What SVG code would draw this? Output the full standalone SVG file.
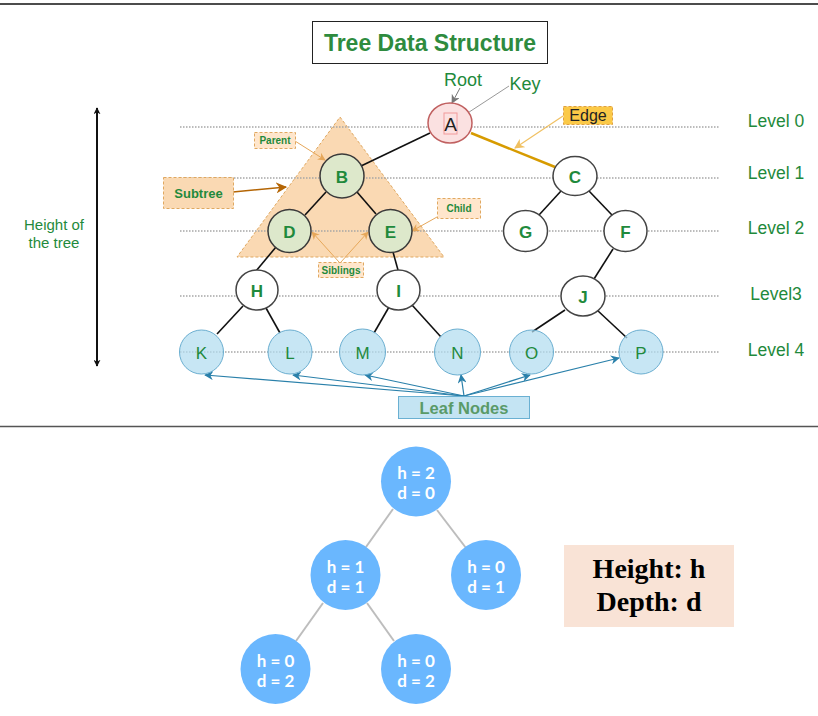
<svg xmlns="http://www.w3.org/2000/svg" width="818" height="716" viewBox="0 0 818 716">
<defs>
<style>
.sans{font-family:"Liberation Sans",Arial,sans-serif}
.grn{fill:#1f8a3c}
.lvl{stroke:#a6a6a6;stroke-width:1.5;stroke-dasharray:1.5 1.5;fill:none}
.edge{stroke:#111;stroke-width:1.6;fill:none}
.wnode{fill:#fff;stroke:#444;stroke-width:1.5}
.gnode{fill:#dde8cb;stroke:#3a3a3a;stroke-width:1.5}
.leaf{fill:#b1ddf0;fill-opacity:0.72;stroke:#6aaed0;stroke-width:1}
.bl{font-family:"Liberation Sans",Arial,sans-serif;font-weight:bold;font-size:17px;fill:#1f8a3c;text-anchor:middle}
.nl{font-family:"Liberation Sans",Arial,sans-serif;font-size:17px;fill:#1f8a3c;text-anchor:middle}
.lab{fill:#ffe6cc;stroke:#e0a860;stroke-width:1;stroke-dasharray:3 2}
.labt{font-family:"Liberation Sans",Arial,sans-serif;font-weight:bold;font-size:10px;fill:#1f8a3c;text-anchor:middle}
.oarr{stroke:#e6a75a;stroke-width:1;fill:none}
.barr{stroke:#2a80aa;stroke-width:1.2;fill:none}
.bnode{fill:#6ab7fe}
.bt{font-family:Lato,"Liberation Sans",sans-serif;font-weight:bold;font-size:17px;fill:#fff;text-anchor:middle}
.bedge{stroke:#bdbdbd;stroke-width:2;fill:none}
</style>
<marker id="mBlk" viewBox="0 0 10 10" refX="9" refY="5" markerWidth="7" markerHeight="7" orient="auto-start-reverse" markerUnits="userSpaceOnUse"><path d="M0,0 L10,5 L0,10 L3,5 z" fill="#111"/></marker>
<marker id="mGray" viewBox="0 0 10 10" refX="9" refY="5" markerWidth="9" markerHeight="9" orient="auto" markerUnits="userSpaceOnUse"><path d="M0,0 L10,5 L0,10 L3,5 z" fill="#777"/></marker>
<marker id="mYel" viewBox="0 0 10 10" refX="9" refY="5" markerWidth="10" markerHeight="10" orient="auto" markerUnits="userSpaceOnUse"><path d="M0,0 L10,5 L0,10 L3,5 z" fill="#f0c060"/></marker>
<marker id="mBrown" viewBox="0 0 10 10" refX="9" refY="5" markerWidth="11" markerHeight="11" orient="auto" markerUnits="userSpaceOnUse"><path d="M0,0 L10,5 L0,10 L3,5 z" fill="#b46504"/></marker>
<marker id="mOr" viewBox="0 0 10 10" refX="9" refY="5" markerWidth="8" markerHeight="8" orient="auto" markerUnits="userSpaceOnUse"><path d="M0,0 L10,5 L0,10 L3,5 z" fill="#e6a75a"/></marker>
<marker id="mBlue" viewBox="0 0 10 10" refX="9" refY="5" markerWidth="9" markerHeight="9" orient="auto" markerUnits="userSpaceOnUse"><path d="M0,0 L10,5 L0,10 L3,5 z" fill="#2a80aa"/></marker>
</defs>
<rect x="0" y="0" width="818" height="716" fill="#fff"/>
<line x1="0" y1="4" x2="818" y2="4" stroke="#111" stroke-width="1.5"/>
<line x1="0" y1="426.5" x2="818" y2="426.5" stroke="#555" stroke-width="1.5"/>

<g id="title">
<rect x="312.5" y="21.5" width="235" height="42" fill="#fff" stroke="#222" stroke-width="1"/>
<text x="430" y="51" class="sans" font-weight="bold" font-size="23" fill="#2e8b3e" text-anchor="middle">Tree Data Structure</text>
</g>

<g id="subtree-triangle">
<path d="M340,117 L444,257 L237,257 Z" fill="#fad9b3" stroke="#e0a860" stroke-width="1" stroke-dasharray="3 2"/>
</g>

<g id="levels">
<line class="lvl" x1="180" y1="127" x2="719" y2="127"/>
<line class="lvl" x1="180" y1="178" x2="719" y2="178"/>
<line class="lvl" x1="180" y1="231" x2="719" y2="231"/>
<line class="lvl" x1="180" y1="296" x2="719" y2="296"/>
<line class="lvl" x1="180" y1="352" x2="719" y2="352"/>
<text x="776" y="126.5" class="sans grn" font-size="17.5" text-anchor="middle">Level 0</text>
<text x="776" y="178.5" class="sans grn" font-size="17.5" text-anchor="middle">Level 1</text>
<text x="776" y="233.5" class="sans grn" font-size="17.5" text-anchor="middle">Level 2</text>
<text x="776" y="299.5" class="sans grn" font-size="17.5" text-anchor="middle">Level3</text>
<text x="776" y="355.5" class="sans grn" font-size="17.5" text-anchor="middle">Level 4</text>
</g>

<g id="connectors">
<line class="edge" x1="430" y1="133" x2="361" y2="166"/>
<line x1="471" y1="133" x2="555" y2="167" stroke="#d79b00" stroke-width="2.5"/>
<line class="edge" x1="326" y1="192" x2="305" y2="215"/>
<line class="edge" x1="357" y1="192" x2="376" y2="214"/>
<line class="edge" x1="276" y1="247" x2="256" y2="271"/>
<line class="edge" x1="393" y1="252" x2="398" y2="270"/>
<line class="edge" x1="243" y1="306" x2="217" y2="334"/>
<line class="edge" x1="266" y1="308" x2="280" y2="333"/>
<line class="edge" x1="389" y1="307" x2="374" y2="333"/>
<line class="edge" x1="412" y1="305" x2="441" y2="337"/>
<line class="edge" x1="561" y1="191" x2="539" y2="215"/>
<line class="edge" x1="589" y1="191" x2="612" y2="215"/>
<line class="edge" x1="613" y1="249" x2="594" y2="279"/>
<line class="edge" x1="565" y1="310" x2="532" y2="332"/>
<line class="edge" x1="597" y1="310" x2="627" y2="338"/>
<line x1="460" y1="88" x2="452" y2="103" stroke="#777" stroke-width="1" marker-end="url(#mGray)"/>
<line x1="509" y1="86" x2="460" y2="118" stroke="#999" stroke-width="1" marker-end="url(#mGray)"/>
<line x1="563" y1="116" x2="515" y2="148" stroke="#f0c060" stroke-width="1.2" marker-end="url(#mYel)"/>
<line x1="233" y1="192" x2="286" y2="187" stroke="#b46504" stroke-width="1.5" marker-end="url(#mBrown)"/>
<line class="oarr" x1="295" y1="141" x2="325" y2="160" marker-end="url(#mOr)"/>
<line class="oarr" x1="437" y1="217" x2="412" y2="231" marker-end="url(#mOr)"/>
<line class="oarr" x1="339" y1="262" x2="312" y2="232" marker-end="url(#mOr)"/>
<line class="oarr" x1="341" y1="262" x2="368" y2="232" marker-end="url(#mOr)"/>
<line class="barr" x1="464" y1="396" x2="205" y2="375" marker-end="url(#mBlue)"/>
<line class="barr" x1="464" y1="396" x2="293" y2="375" marker-end="url(#mBlue)"/>
<line class="barr" x1="464" y1="396" x2="365" y2="375" marker-end="url(#mBlue)"/>
<line class="barr" x1="464" y1="396" x2="461" y2="375" marker-end="url(#mBlue)"/>
<line class="barr" x1="464" y1="396" x2="530" y2="375" marker-end="url(#mBlue)"/>
<line class="barr" x1="464" y1="396" x2="619" y2="358" marker-end="url(#mBlue)"/>
<line x1="97" y1="108" x2="97" y2="366" stroke="#111" stroke-width="2" marker-start="url(#mBlk)" marker-end="url(#mBlk)"/>
<line class="bedge" x1="393" y1="509" x2="366" y2="547"/>
<line class="bedge" x1="437" y1="510" x2="466" y2="548"/>
<line class="bedge" x1="323" y1="603" x2="296" y2="641"/>
<line class="bedge" x1="367" y1="603" x2="394" y2="641"/>
</g>

<g id="labels">
<text x="463" y="86" class="sans grn" font-size="18" text-anchor="middle">Root</text>
<text x="525" y="90" class="sans grn" font-size="18" text-anchor="middle">Key</text>
<rect x="563.5" y="106.5" width="49" height="18" fill="#fbc947" stroke="#e0a040" stroke-width="1" stroke-dasharray="3 2"/>
<text x="588" y="121" class="sans" font-size="16" fill="#222" text-anchor="middle">Edge</text>
<text x="54" y="230" class="sans grn" font-size="15" text-anchor="middle">Height of</text>
<text x="54" y="248" class="sans grn" font-size="15" text-anchor="middle">the tree</text>
</g>

<g id="label-subtree">
<rect x="163.5" y="177.5" width="70" height="31" fill="#fad9b3" stroke="#e0a860" stroke-width="1" stroke-dasharray="3 2"/>
<text x="198.5" y="197.5" class="sans grn" font-weight="bold" font-size="13" text-anchor="middle">Subtree</text>
</g>
<g id="label-parent">
<rect x="254.5" y="132.5" width="41" height="16" class="lab"/>
<text x="275" y="144" class="labt">Parent</text>
</g>
<g id="label-child">
<rect x="437.5" y="198.5" width="43" height="20" class="lab"/>
<text x="459" y="212" class="labt">Child</text>
</g>
<g id="label-siblings">
<rect x="318.5" y="262.5" width="45" height="15" class="lab"/>
<text x="341" y="273.5" class="labt" font-size="9.5">Siblings</text>
</g>

<g id="node-A">
<ellipse cx="450" cy="123" rx="22" ry="20" fill="#fbe1e1" stroke="#c06060" stroke-width="1.5"/>
<rect x="444" y="113" width="13" height="21" fill="none" stroke="#f29a9a" stroke-width="1"/>
<text x="450.5" y="131" class="sans" font-size="19" fill="#222" text-anchor="middle">A</text>
</g>
<g id="node-B"><circle cx="342" cy="176" r="22" class="gnode"/><text x="342" y="182.5" class="bl">B</text></g>
<g id="node-D"><circle cx="289.5" cy="231" r="21.5" class="gnode"/><text x="289.5" y="237.5" class="bl">D</text></g>
<g id="node-E"><circle cx="390.5" cy="231" r="21.5" class="gnode"/><text x="390.5" y="237.5" class="bl">E</text></g>
<g id="node-C"><ellipse cx="575" cy="176" rx="22" ry="19.5" class="wnode"/><text x="575" y="182.5" class="bl">C</text></g>
<g id="node-G"><ellipse cx="525.5" cy="231" rx="22" ry="20.5" class="wnode"/><text x="525.5" y="237.5" class="bl">G</text></g>
<g id="node-F"><ellipse cx="625.5" cy="231" rx="21.5" ry="20.5" class="wnode"/><text x="625.5" y="237.5" class="bl">F</text></g>
<g id="node-H"><ellipse cx="257" cy="290" rx="21" ry="20" class="wnode"/><text x="257" y="296.5" class="bl">H</text></g>
<g id="node-I"><ellipse cx="398.5" cy="290" rx="21.5" ry="20" class="wnode"/><text x="398.5" y="296.5" class="bl">I</text></g>
<g id="node-J"><ellipse cx="583" cy="296" rx="22" ry="20" class="wnode"/><text x="583" y="302.5" class="bl">J</text></g>
<g id="node-K"><circle cx="201.5" cy="352" r="22" class="leaf"/><text x="201.5" y="358.5" class="nl">K</text></g>
<g id="node-L"><circle cx="290" cy="352" r="22" class="leaf"/><text x="290" y="358.5" class="nl">L</text></g>
<g id="node-M"><circle cx="362.5" cy="352" r="23" class="leaf"/><text x="362.5" y="358.5" class="nl">M</text></g>
<g id="node-N"><circle cx="457.5" cy="352" r="23" class="leaf"/><text x="457.5" y="358.5" class="nl">N</text></g>
<g id="node-O"><circle cx="531.5" cy="352" r="22" class="leaf"/><text x="531.5" y="358.5" class="nl">O</text></g>
<g id="node-P"><circle cx="641" cy="352" r="22" class="leaf"/><text x="641" y="358.5" class="nl">P</text></g>

<g id="leaf-nodes-label">
<rect x="398.5" y="396.5" width="131" height="22" fill="#c4e4f3" stroke="#6ab0d2" stroke-width="1"/>
<text x="464" y="413.5" class="sans" font-weight="bold" font-size="16.5" fill="#5a9a68" text-anchor="middle">Leaf Nodes</text>
</g>

<g id="bnode-root"><circle cx="416" cy="481.5" r="35" class="bnode"/><text x="416" y="479" class="bt">h = 2</text><text x="416" y="499" class="bt">d = 0</text></g>
<g id="bnode-left"><circle cx="345.5" cy="575" r="35" class="bnode"/><text x="345.5" y="572.5" class="bt">h = 1</text><text x="345.5" y="592.5" class="bt">d = 1</text></g>
<g id="bnode-right"><circle cx="486" cy="575" r="35" class="bnode"/><text x="486" y="572.5" class="bt">h = 0</text><text x="486" y="592.5" class="bt">d = 1</text></g>
<g id="bnode-ll"><circle cx="275.5" cy="669" r="35" class="bnode"/><text x="275.5" y="666.5" class="bt">h = 0</text><text x="275.5" y="686.5" class="bt">d = 2</text></g>
<g id="bnode-lr"><circle cx="416" cy="669" r="35" class="bnode"/><text x="416" y="666.5" class="bt">h = 0</text><text x="416" y="686.5" class="bt">d = 2</text></g>

<g id="legend">
<rect x="564" y="545" width="170" height="82" fill="#f9e3d6"/>
<text x="649" y="578" font-family="'Liberation Serif','Times New Roman',serif" font-weight="bold" font-size="28" fill="#000" text-anchor="middle">Height: h</text>
<text x="649" y="611" font-family="'Liberation Serif','Times New Roman',serif" font-weight="bold" font-size="28" fill="#000" text-anchor="middle">Depth: d</text>
</g>
</svg>
